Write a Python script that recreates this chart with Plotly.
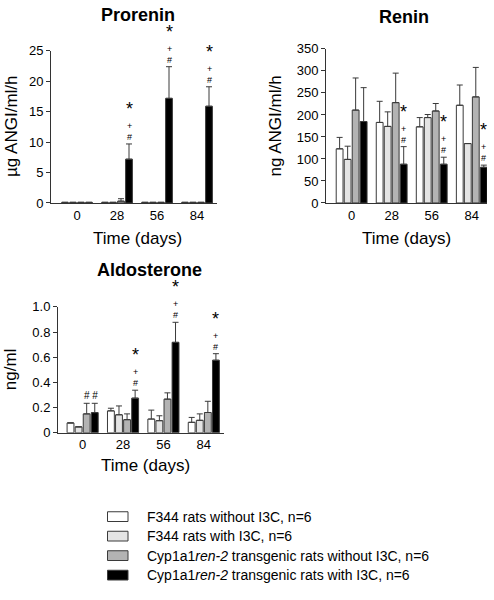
import plotly.graph_objects as go

W, H = 494, 600
FONT = "Liberation Sans, Arial, Helvetica, sans-serif"

days = ["0", "28", "56", "84"]
series_names = [
    "F344 rats without I3C, n=6",
    "F344 rats with I3C, n=6",
    "Cyp1a1<i>ren-2</i> transgenic rats without I3C, n=6",
    "Cyp1a1<i>ren-2</i> transgenic rats with I3C, n=6",
]
series_colors = ["#ffffff", "#e4e4e4", "#b3b3b3", "#000000"]

# Prorenin (µg ANGI/ml/h): mean and SEM per series, per day
prorenin_mean = [
    [0.1, 0.1, 0.1, 0.1],
    [0.1, 0.1, 0.1, 0.1],
    [0.1, 0.3, 0.1, 0.1],
    [0.1, 7.2, 17.2, 15.9],
]
prorenin_err = [
    [0.0, 0.0, 0.0, 0.0],
    [0.0, 0.0, 0.0, 0.0],
    [0.0, 0.4, 0.0, 0.0],
    [0.0, 2.5, 5.2, 3.2],
]
# Renin (ng ANGI/ml/h)
renin_mean = [
    [123, 183, 173, 222],
    [99, 174, 194, 135],
    [211, 228, 209, 241],
    [185, 88, 88, 81],
]
renin_err = [
    [26, 48, 21, 46],
    [30, 33, 7, 0],
    [73, 67, 17, 67],
    [77, 40, 16, 5],
]
# Aldosterone (ng/ml)
aldo_mean = [
    [0.078, 0.174, 0.109, 0.083],
    [0.047, 0.143, 0.096, 0.099],
    [0.150, 0.104, 0.267, 0.161],
    [0.160, 0.275, 0.718, 0.576],
]
aldo_err = [
    [0.0, 0.021, 0.071, 0.039],
    [0.0, 0.070, 0.039, 0.051],
    [0.084, 0.046, 0.050, 0.089],
    [0.074, 0.063, 0.159, 0.052],
]

# significance marks: (series indices, day index, label)
STACK = "<span style='font-size:18px;baseline-shift:2px'>*</span><br>+<br>#"
prorenin_sig = [((3,), 1, STACK), ((3,), 2, STACK), ((3,), 3, STACK)]
renin_sig = [((3,), 1, STACK), ((3,), 2, STACK), ((3,), 3, STACK)]
aldo_sig = [((2, 3), 0, "# #"), ((3,), 1, STACK), ((3,), 2, STACK), ((3,), 3, STACK)]

prorenin_ticks = [0, 5, 10, 15, 20, 25]
renin_ticks = [0, 50, 100, 150, 200, 250, 300, 350]
aldo_ticks = [0, 0.2, 0.4, 0.6, 0.8, 1.0]
aldo_ticktext = ["0", "0.2", "0.4", "0.6", "0.8", "1.0"]

BARGAP = 0.2
NSER = 4
slot = (1 - BARGAP) / NSER

fig = go.Figure()
panels = [
    ("x", "y", prorenin_mean, prorenin_err, prorenin_sig),
    ("x2", "y2", renin_mean, renin_err, renin_sig),
    ("x3", "y3", aldo_mean, aldo_err, aldo_sig),
]
xs = list(range(len(days)))
annotations = []
for xa, ya, means, errs, sigs in panels:
    for s in range(NSER):
        fig.add_trace(go.Bar(
            x=xs, y=means[s], xaxis=xa, yaxis=ya, name=series_names[s],
            marker=dict(color=series_colors[s], line=dict(color="#3a3a3a", width=1)),
            error_y=dict(type="data", symmetric=False, array=errs[s],
                         arrayminus=[0] * len(days), color="#3a3a3a",
                         thickness=1, width=3),
            showlegend=False, offsetgroup=str(s), hoverinfo="skip",
        ))
    for sers, d, label in sigs:
        xpos = sum(d - (1 - BARGAP) / 2 + slot * (s + 0.5) for s in sers) / len(sers)
        ytop = max(means[s][d] + errs[s][d] for s in sers)
        annotations.append(dict(
            x=xpos, y=ytop, xref=xa, yref=ya, text=label, showarrow=False,
            yshift=1, borderpad=0,
            font=dict(family=FONT, size=9 if len(sers) == 1 else 10, color="black"),
            xanchor="center", yanchor="bottom",
        ))


def px_x(p):
    return p / W


def px_y(p):
    return 1 - p / H


axis_common = dict(showgrid=False, zeroline=False, showline=True, linecolor="#333",
                   linewidth=1, tickfont=dict(family=FONT, size=13, color="black"))

fig.update_layout(
    width=W, height=H, margin=dict(l=0, r=0, t=0, b=0),
    paper_bgcolor="white", plot_bgcolor="white",
    barmode="group", bargap=BARGAP, bargroupgap=0.15,
    showlegend=False,
    xaxis=dict(domain=[px_x(51), px_x(217)], range=[-0.65, 3.5], anchor="y",
               tickvals=xs, ticktext=days, ticks="", **axis_common),
    yaxis=dict(domain=[px_y(201), px_y(45)], range=[0, 25], anchor="x",
               tickvals=prorenin_ticks, ticks="outside", ticklen=4, tickcolor="#333",
               **axis_common),
    xaxis2=dict(domain=[px_x(326), px_x(487)], range=[-0.64, 3.38], anchor="y2",
                tickvals=xs, ticktext=days, ticks="", **axis_common),
    yaxis2=dict(domain=[px_y(201), px_y(43)], range=[0, 350], anchor="x2",
                tickvals=renin_ticks, ticks="outside", ticklen=4, tickcolor="#333",
                **axis_common),
    xaxis3=dict(domain=[px_x(58), px_x(224)], range=[-0.61, 3.5], anchor="y3",
                tickvals=xs, ticktext=days, ticks="", **axis_common),
    yaxis3=dict(domain=[px_y(436.7), px_y(307.5)], range=[0, 1.0], anchor="x3",
                tickvals=aldo_ticks, ticktext=aldo_ticktext, ticks="outside", ticklen=4,
                tickcolor="#333", **axis_common),
)

titles = [
    ("<b>Prorenin</b>", 138, 8.5, 18, 0),
    ("<b>Renin</b>", 404, 10, 18, 0),
    ("<b>Aldosterone</b>", 149.5, 270, 18, 0),
    ("Time (days)", 137.5, 237, 17, 0),
    ("Time (days)", 406, 237, 17, 0),
    ("Time (days)", 145, 470, 17, 0),
    ("µg ANGI/ml/h", 12, 123, 17, -90),
    ("ng ANGI/ml/h", 275.5, 122, 17, -90),
    ("ng/ml", 10.5, 372, 17, -90),
]
for text, x, y, size, ang in titles:
    annotations.append(dict(text=text, x=px_x(x), y=px_y(y), xref="paper", yref="paper",
                            showarrow=False, xanchor="center", yanchor="middle",
                            borderpad=0, textangle=ang,
                            font=dict(family=FONT, size=size, color="black")))

# legend (manual)
shapes = []
for i, (name, col) in enumerate(zip(series_names, series_colors)):
    yc = 522.7 + 20 * i
    shapes.append(dict(type="rect", xref="paper", yref="paper",
                       x0=px_x(107.5), x1=px_x(128), y0=px_y(yc + 5), y1=px_y(yc - 5),
                       fillcolor=col, line=dict(color="#3a3a3a", width=1)))
    annotations.append(dict(text=name, x=px_x(145), y=px_y(yc), xref="paper", yref="paper",
                            showarrow=False, xanchor="left", yanchor="middle",
                            font=dict(family=FONT, size=14, color="black")))

fig.update_layout(annotations=annotations, shapes=shapes)
fig.write_html("out.html", config={"displayModeBar": False, "staticPlot": True},
               post_script="document.body.style.margin='0px';document.body.style.padding='0px';")
